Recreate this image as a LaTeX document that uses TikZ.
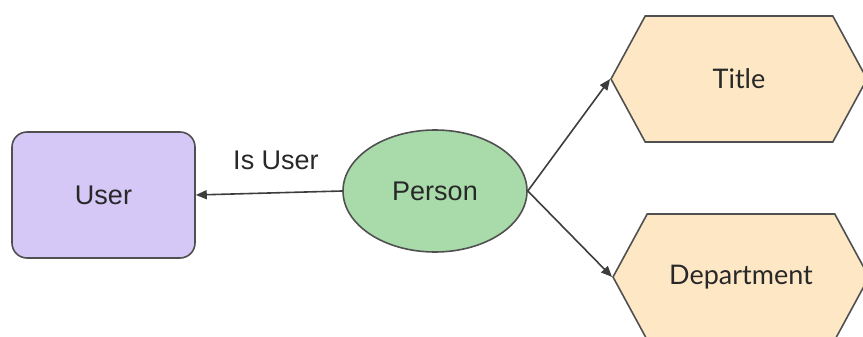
\documentclass[tikz,border=0pt]{standalone}
\usepackage{fontspec}
\setmainfont{Liberation Sans}
\newfontfamily\latofont{Lato}
\usetikzlibrary{shapes.geometric,shapes.symbols,arrows.meta}
\definecolor{userfill}{RGB}{213,199,246}
\definecolor{personfill}{RGB}{169,219,170}
\definecolor{attrfill}{RGB}{253,231,197}
\definecolor{edgegray}{RGB}{80,80,80}
\definecolor{inkgray}{RGB}{40,40,40}
\tikzset{
  bigfont/.style={font=\fontsize{27}{32}\selectfont},
  userbox/.style={draw=edgegray, line width=1.6pt, fill=userfill, rounded corners=15pt,
    minimum width=183pt, minimum height=126pt, bigfont, text=inkgray},
  personell/.style={draw=edgegray, line width=1.6pt, fill=personfill, ellipse,
    minimum width=184pt, minimum height=122pt, inner sep=0pt, bigfont, text=inkgray},
  attrhex/.style={draw=edgegray, line width=1.6pt, fill=attrfill, signal,
    signal to=west and east, signal pointer angle=123, minimum width=256pt,
    minimum height=126pt, inner sep=0pt, font=\latofont\fontsize{27}{32}\selectfont, text=inkgray},
  link/.style={draw=inkgray!90, line width=1.6pt, -{Triangle[length=11pt,width=9pt]}}
}
\begin{document}
\begin{tikzpicture}[x=1pt, y=-1pt]
  \useasboundingbox (0, 0) rectangle (863, 337);

  \node [userbox] (user) at (103.5, 195) {User};
  \node [personell] (person) at (435, 191) {Person};
  \node [attrhex] (title) at (739, 79) {Title};
  \node [attrhex] (dept) at (741, 277) {Department};

  \draw [link] (person.west) -- (user.east);
  \node [bigfont, text=inkgray] (isuser) at (276, 160) {Is User};
  \draw [link] (person.east) -- (title.west);
  \draw [link] (person.east) -- (dept.west);
\end{tikzpicture}
\end{document}
